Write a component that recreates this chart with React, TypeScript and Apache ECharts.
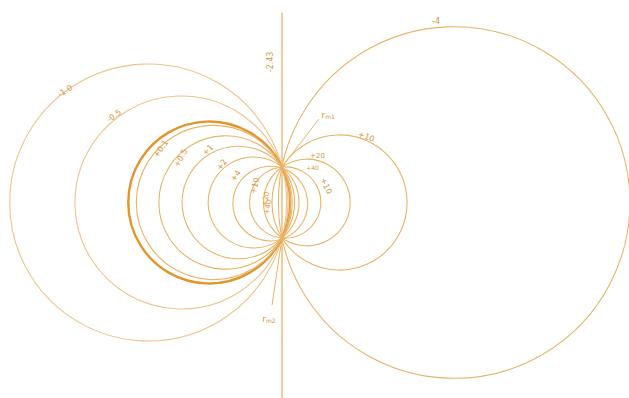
import React, { useEffect, useRef } from "react";
import * as echarts from "echarts";

// Coaxal family of circles through the two focal points (0, ±1)
const FOCAL_HALF = 1;
const circleNames = ["-1.0", "-0.5", "+0.05", "+0.1", "+0.5", "+1", "+2", "+4", "+10", "+20", "+40", "-4"];
// centre of each circle on the x axis
const circleCenters = [-3.77, -2.83, -2.05, -1.93, -1.59, -1.23, -0.8, -0.33, 0.09, 0.7, 1.62, 4.85];

// annotation texts
const noteTexts = ["-1.0", "-0.5", "+0.1", "+0.5", "+1", "+2", "+4", "+10", "+20", "+40", "-2.43", "{r|r}{s|m1}", "{r|r}{s|m2}", "-4", "+10", "+20", "+40", "+10"];
const noteX = [-6.11, -4.73, -3.41, -2.85, -2.09, -1.69, -1.3, -0.76, -0.45, -0.39, -0.31, 1.3, -0.37, 4.34, 2.37, 1.0, 0.86, 1.24];
const noteY = [3.14, 2.44, 1.51, 1.25, 1.48, 1.06, 0.75, 0.47, 0.1, -0.13, 3.96, 2.47, -3.28, 5.09, 1.85, 1.3, 0.98, 0.47];
const noteRot = [32, 35, 55, 60, 45, 55, 55, 75, 80, 80, 90, 0, 0, 0, -20, 0, 0, -65];
const noteSize = [8, 8, 8, 8, 8, 8, 8, 8, 7, 7, 8, 8, 8, 8, 8, 7, 6, 8];

// straight segments: the zero-curvature member and the r_m pointers
const axisLine = [[0, 5.35], [0, -5.6]];
const rm1Line = [[0, 1], [1.04, 2.35]];
const rm2Line = [[0, -1], [-0.28, -2.89]];

const THIN = "#e9b467";
const PALE = "#eec389";
const THICK = "#e0962c";
const TEXT = "#d8963c";

export default function App() {
  const ref = useRef<HTMLDivElement>(null);
  useEffect(() => {
    if (!ref.current) return;
    const chart = echarts.init(ref.current, null, { renderer: "svg" });
    const circleData = circleCenters.map((h, i) => [h, Math.sqrt(h * h + FOCAL_HALF * FOCAL_HALF), i]);
    const noteData = noteTexts.map((t, i) => [noteX[i], noteY[i], noteRot[i], i]);
    const segStyle = { color: THIN, width: 1 };
    chart.setOption({
      animation: false,
      backgroundColor: "#ffffff",
      grid: { left: 0, right: 0, top: 0, bottom: 0 },
      xAxis: { type: "value", min: -7.944, max: 9.775, show: false },
      yAxis: { type: "value", min: -5.507, max: 5.704, show: false },
      series: [
        {
          type: "custom",
          clip: false,
          data: circleData,
          renderItem: (params: any, api: any) => {
            const h = api.value(0);
            const r = api.value(1);
            const i = api.value(2);
            const c = api.coord([h, 0]);
            const s = api.size([r, r]);
            const thick = i === 2;
            const pale = i === 0 || i === 1;
            return {
              type: "circle",
              shape: { cx: c[0], cy: c[1], r: s[0] },
              style: {
                fill: "none",
                stroke: thick ? THICK : pale ? PALE : THIN,
                lineWidth: thick ? 2.4 : 1.1,
              },
            };
          },
        },
        {
          type: "line",
          data: axisLine,
          showSymbol: false,
          lineStyle: { color: THIN, width: 1.3 },
          silent: true,
        },
        { type: "line", data: rm1Line, showSymbol: false, lineStyle: segStyle, silent: true },
        { type: "line", data: rm2Line, showSymbol: false, lineStyle: segStyle, silent: true },
        {
          type: "custom",
          clip: false,
          data: noteData,
          renderItem: (params: any, api: any) => {
            const p = api.coord([api.value(0), api.value(1)]);
            const rot = (api.value(2) * Math.PI) / 180;
            const i = api.value(3);
            return {
              type: "text",
              x: p[0],
              y: p[1],
              rotation: rot,
              style: {
                text: noteTexts[i],
                fill: TEXT,
                fontSize: noteSize[i],
                fontFamily: "DejaVu Sans",
                align: "center",
                verticalAlign: "middle",
                rich: {
                  r: { fontSize: 9, fill: TEXT, fontFamily: "DejaVu Sans" },
                  s: { fontSize: 6, fill: TEXT, fontFamily: "DejaVu Sans", padding: [4, 0, 0, 0] },
                },
              },
            };
          },
        },
      ],
    });
    return () => chart.dispose();
  }, []);
  return (
    <div
      ref={ref}
      style={{ position: "fixed", left: 0, top: 0, width: 629, height: 398, background: "#fff" }}
    />
  );
}
